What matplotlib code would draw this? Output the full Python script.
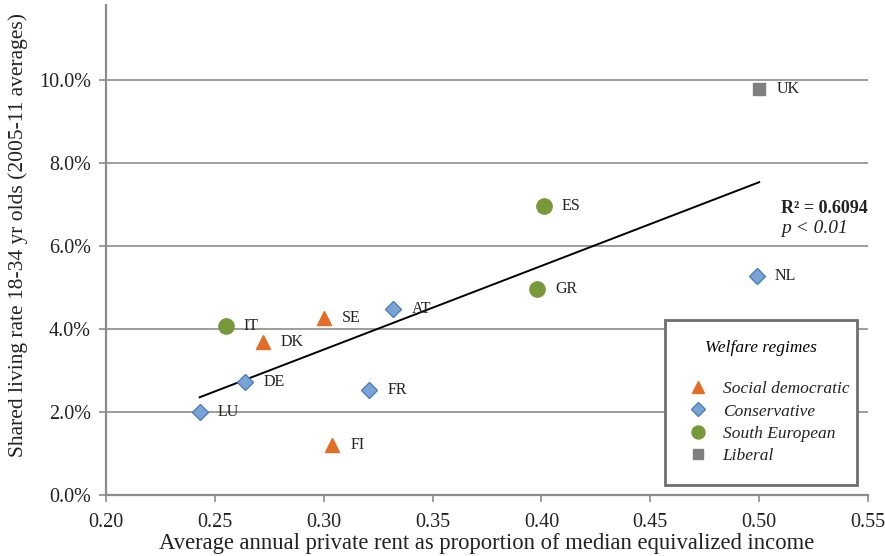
import numpy as np
import matplotlib
matplotlib.use("Agg")
import matplotlib.pyplot as plt
from matplotlib.lines import Line2D
from matplotlib.ticker import FuncFormatter

# country data: rent burden vs shared living rate (%)
countries = ["UK", "ES", "NL", "GR", "AT", "SE", "IT", "DK", "DE", "FR", "LU", "FI"]
rent = [0.500, 0.401, 0.499, 0.398, 0.332, 0.300, 0.255, 0.272, 0.264, 0.321, 0.243, 0.304]
shared = [9.77, 6.96, 5.27, 4.96, 4.48, 4.27, 4.06, 3.68, 2.72, 2.53, 2.00, 1.20]
regime = ["lib", "se", "con", "se", "con", "sd", "se", "sd", "con", "con", "con", "sd"]

regime_names = {"sd": "Social democratic", "con": "Conservative",
                "se": "South European", "lib": "Liberal"}
regime_order = ["sd", "con", "se", "lib"]
styles = {
    "sd": dict(marker="^", color="#E36C26", edge="#E36C26", size=10),
    "con": dict(marker="D", color="#7BA4D6", edge="#4F7FBA", size=8),
    "se": dict(marker="o", color="#77993A", edge="#77993A", size=11),
    "lib": dict(marker="s", color="#7F7F7F", edge="#7F7F7F", size=9),
}

plt.rcParams["font.family"] = ["Liberation Serif", "DejaVu Serif"]

fig = plt.figure(figsize=(8.85, 5.56), dpi=100)
ax = fig.add_axes([0.1198, 0.1097, 0.861, 0.881])

x = np.array(rent)
y = np.array(shared)

# linear trend over the observed range
slope, icept = np.polyfit(x, y, 1)
xs = np.array([x.min(), x.max()])
ax.plot(xs, slope * xs + icept, color="black", lw=1.4, zorder=3)

for c, xi, yi, r in zip(countries, x, y, regime):
    st = styles[r]
    ax.plot(xi, yi, linestyle="none", marker=st["marker"], markersize=st["size"],
            markerfacecolor=st["color"], markeredgecolor=st["edge"],
            markeredgewidth=1.0, zorder=4)
    ax.annotate(c, (xi, yi), xytext=(13, 0), textcoords="offset points",
                ha="left", va="center", fontsize=11.5, color="#222222")

ax.set_xlim(0.20, 0.55)
ax.set_ylim(0, 11.8)
ax.set_xticks(np.arange(0.20, 0.551, 0.05))
ax.set_yticks(np.arange(0, 10.1, 2))
ax.xaxis.set_major_formatter(FuncFormatter(lambda v, p: f"{v:.2f}"))
ax.yaxis.set_major_formatter(FuncFormatter(lambda v, p: f"{v:.1f}%"))
ax.tick_params(axis="both", labelsize=14.5, colors="#222222", length=5,
               width=1.2, color="#8C8C8C")
ax.tick_params(axis="y", direction="out", pad=6)
ax.tick_params(axis="x", direction="out", pad=8)

ax.yaxis.grid(True, color="#8C8C8C", lw=1.2)
ax.set_axisbelow(True)
for s in ("top", "right"):
    ax.spines[s].set_visible(False)
for s in ("left", "bottom"):
    ax.spines[s].set_color("#8C8C8C")
    ax.spines[s].set_linewidth(1.6)

ax.set_xlabel("Average annual private rent as proportion of median equivalized income",
              fontsize=16.3, color="#222222", labelpad=1)
ax.set_ylabel("Shared living rate 18-34 yr olds (2005-11 averages)",
              fontsize=15.5, color="#222222")
ax.yaxis.set_label_coords(-0.103, 0.53)

ax.text(1.0, 0.585, "R² = 0.6094", transform=ax.transAxes, ha="right",
        va="center", fontsize=13, fontweight="bold", color="#222222")
ax.text(0.973, 0.545, "p < 0.01", transform=ax.transAxes, ha="right",
        va="center", fontsize=14, style="italic", color="#222222")

handles = []
for r in regime_order:
    st = styles[r]
    handles.append(Line2D([], [], linestyle="none", marker=st["marker"],
                          markersize=st["size"] * 0.85, markerfacecolor=st["color"],
                          markeredgecolor=st["edge"], label=regime_names[r]))
leg = ax.legend(handles=handles, title="Welfare regimes\n", loc="lower left",
                bbox_to_anchor=(0.734, 0.02, 0.252, 0.333), mode="expand",
                frameon=True, fancybox=False, fontsize=12.5, title_fontsize=12.5,
                handlelength=1.4, handletextpad=0.7, labelspacing=0.36,
                borderpad=1.2, borderaxespad=0)
leg.get_title().set_style("italic")
for t in leg.get_texts():
    t.set_style("italic")
    t.set_color("#222222")
leg.get_frame().set_edgecolor("#6E6E6E")
leg.get_frame().set_linewidth(2.0)
leg.get_frame().set_alpha(1)

fig.savefig("out.png", dpi=100)
